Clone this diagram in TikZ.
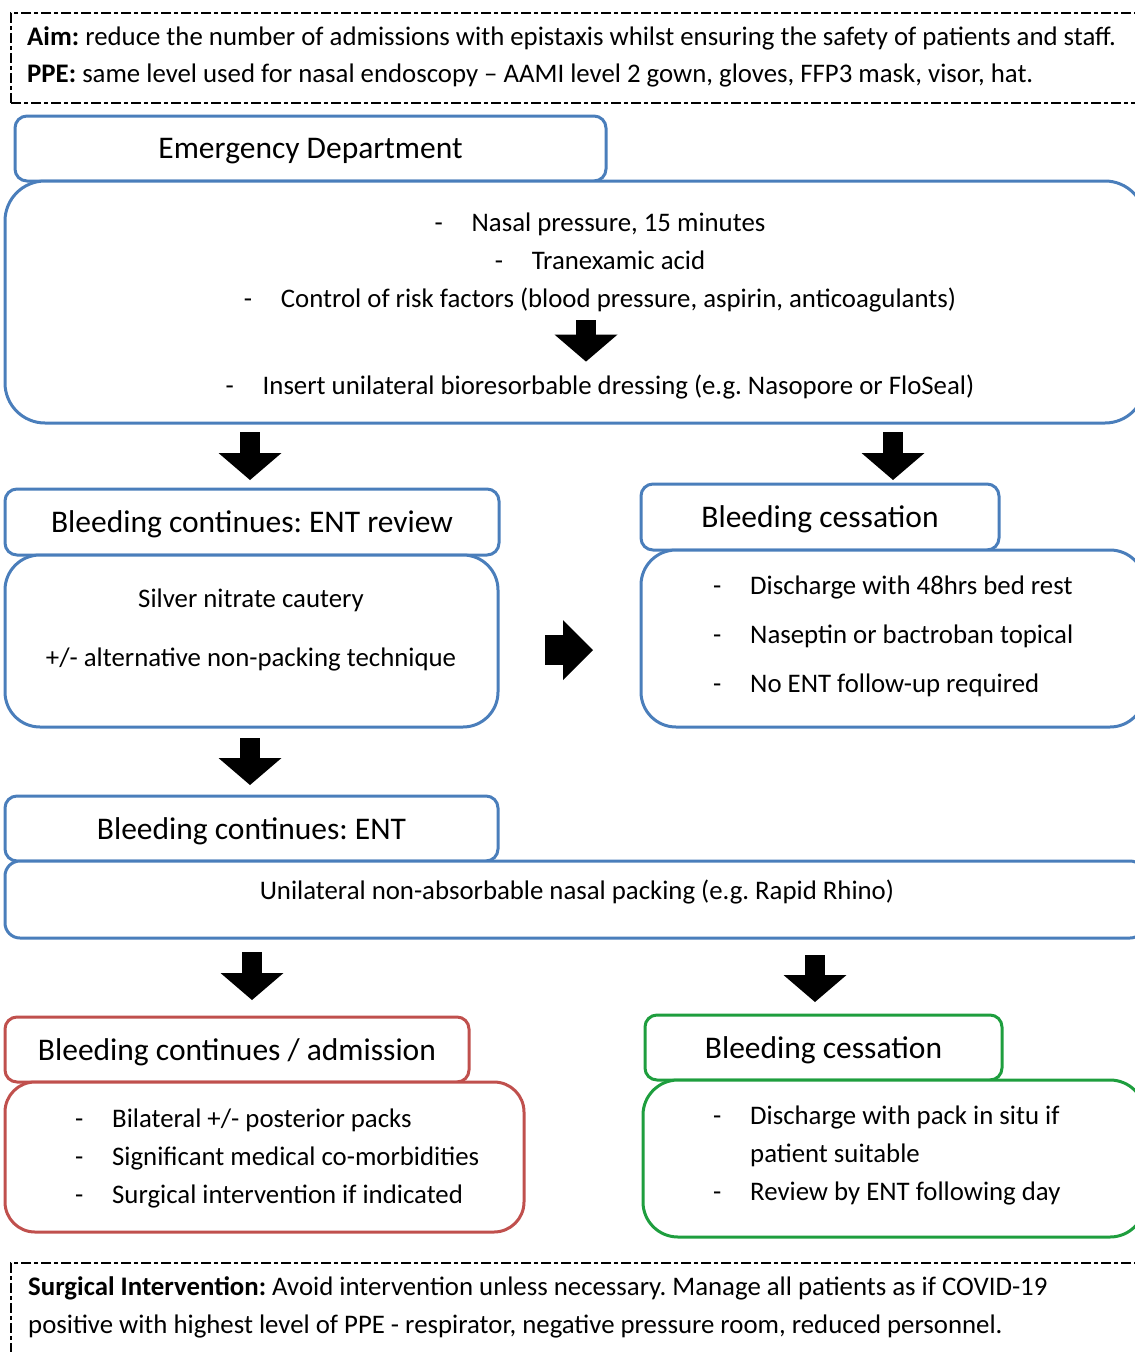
\documentclass[tikz,border=0pt]{standalone}
\usepackage{fontspec}
\setmainfont{Carlito}
\frenchspacing
\usetikzlibrary{arrows.meta, calc, positioning}
\definecolor{edblue}{HTML}{4A7EBB}
\definecolor{admred}{HTML}{C0504D}
\definecolor{disgreen}{HTML}{1E9E3E}
\tikzstyle{headbox} = [rectangle, line width=3pt, rounded corners=12pt, draw=edblue, fill=white, anchor=north west, inner sep=0pt, outer sep=0pt, text depth=0pt, font=\fontsize{31.5}{36}\selectfont]
\tikzstyle{bodybox} = [rectangle, line width=3pt, draw=edblue, fill=white, inner sep=0pt, outer sep=0pt]
\tikzstyle{notebox} = [rectangle, line width=2pt, dash pattern=on 10pt off 3pt on 4pt off 3pt, draw=black, anchor=north west, minimum width=1135pt]
\tikzstyle{txt} = [inner sep=0pt, anchor=mid, font=\fontsize{26.8}{30}\selectfont]
\tikzstyle{arrow} = [line width=20pt, -{Triangle[width=63pt,length=27pt,line width=0pt]}]
\tikzstyle{sidearrow} = [line width=30pt, -{Triangle[width=60pt,length=30pt,line width=0pt]}]
\newcommand{\dashitem}[1]{\makebox[37pt][l]{-}#1}

\begin{document}
\begin{tikzpicture}[x=1pt, y=-1pt]
	\useasboundingbox (0,0) rectangle (1135,1352);
	\clip (0,0) rectangle (1135,1352);

	% aim and PPE
	\node (Aim) [notebox, minimum height=90pt] at (10,12) {};
	\node (AimTxt) [txt, anchor=mid west] at (27,43) {\textbf{Aim:} reduce the number of admissions with epistaxis whilst ensuring the safety of patients and staff.};
	\node (PPETxt) [txt, anchor=mid west] at (27,80) {\textbf{PPE:} same level used for nasal endoscopy – AAMI level 2 gown, gloves, FFP3 mask, visor, hat.};

	% emergency department
	\node (EDhead) [headbox, minimum width=591pt, minimum height=65pt] at (15,116) {Emergency Department};
	\node (EDbody) [bodybox, rounded corners=40pt, minimum width=1140pt, minimum height=242pt, below right=0pt and -10pt of EDhead.south west] {};
	\node (EDpress) [txt] at (600,229) {\dashitem{Nasal pressure, 15 minutes}};
	\node (EDtxa) [txt] at (600,267) {\dashitem{Tranexamic acid}};
	\node (EDrisk) [txt] at (600,305) {\dashitem{Control of risk factors (blood pressure, aspirin, anticoagulants)}};
	\node (EDins) [txt] at (600,392) {\dashitem{Insert unilateral bioresorbable dressing (e.g. Nasopore or FloSeal)}};

	% ENT review
	\node (ContHead) [headbox, minimum width=494pt, minimum height=66pt] at (5,489) {Bleeding continues: ENT review};
	\node (ContBody) [bodybox, rounded corners=35pt, minimum width=493pt, minimum height=172pt, below right=0pt and 0pt of ContHead.south west] {};
	\node (ContSilver) [txt] at (251,605) {Silver nitrate cautery};
	\node (ContAlt) [txt] at (251,664) {+/- alternative non-packing technique};

	% first cessation
	\node (CessHead) [headbox, minimum width=358pt, minimum height=66pt] at (641,484) {Bleeding cessation};
	\node (CessBody) [bodybox, rounded corners=35pt, minimum width=504pt, minimum height=177pt, below right=0pt and 0pt of CessHead.south west] {};
	\node (CessRest) [txt, anchor=mid west] at (713,592) {\dashitem{Discharge with 48hrs bed rest}};
	\node (CessTopic) [txt, anchor=mid west] at (713,641) {\dashitem{Naseptin or bactroban topical}};
	\node (CessFollow) [txt, anchor=mid west] at (713,690) {\dashitem{No ENT follow-up required}};

	% packing
	\node (PackHead) [headbox, minimum width=493pt, minimum height=65pt] at (5,796) {Bleeding continues: ENT};
	\node (PackBody) [bodybox, rounded corners=15pt, minimum width=1140pt, minimum height=77pt, below right=0pt and 0pt of PackHead.south west] {};
	\node (PackTxt) [txt] at (577,897) {Unilateral non-absorbable nasal packing (e.g. Rapid Rhino)};

	% admission
	\node (AdmHead) [headbox, draw=admred, minimum width=464pt, minimum height=65pt] at (5,1017) {Bleeding continues / admission};
	\node (AdmBody) [bodybox, draw=admred, rounded corners=30pt, minimum width=519pt, minimum height=150pt, below right=0pt and 0pt of AdmHead.south west] {};
	\node (AdmPacks) [txt, anchor=mid west] at (75,1125) {\dashitem{Bilateral +/- posterior packs}};
	\node (AdmMed) [txt, anchor=mid west] at (75,1163) {\dashitem{Significant medical co-morbidities}};
	\node (AdmSurg) [txt, anchor=mid west] at (75,1201) {\dashitem{Surgical intervention if indicated}};

	% discharge
	\node (DisHead) [headbox, draw=disgreen, minimum width=357pt, minimum height=65pt] at (645,1015) {Bleeding cessation};
	\node (DisBody) [bodybox, draw=disgreen, rounded corners=35pt, minimum width=502pt, minimum height=157pt, below right=0pt and -2pt of DisHead.south west] {};
	\node (DisPack) [txt, anchor=mid west] at (713,1122) {\dashitem{Discharge with pack in situ if}};
	\node (DisSuit) [txt, anchor=mid west] at (750,1160) {patient suitable};
	\node (DisRev) [txt, anchor=mid west] at (713,1198) {\dashitem{Review by ENT following day}};

	% surgical intervention
	\node (Surg) [notebox, minimum height=110pt] at (10,1262) {};
	\node (SurgTxt) [txt, anchor=mid west] at (28,1293) {\textbf{Surgical Intervention:} Avoid intervention unless necessary. Manage all patients as if COVID-19};
	\node (SurgTxt2) [txt, anchor=mid west] at (28,1331) {positive with highest level of PPE - respirator, negative pressure room, reduced personnel.};

	\draw [arrow, shorten <=8pt, shorten >=13pt] (EDrisk.south -| 586,0) -- (EDins.north -| 586,0);
	\draw [arrow, shorten <=9pt, shorten >=9pt] (EDbody.south -| 250,0) -- (ContHead.north -| 250,0);
	\draw [arrow, shorten <=9pt, shorten >=4pt] (EDbody.south -| 893,0) -- (CessHead.north -| 893,0);
	\draw [sidearrow, shorten <=47pt, shorten >=48pt] (ContBody.east |- 0,650) -- (CessBody.west |- 0,650);
	\draw [arrow, shorten <=11pt, shorten >=11pt] (ContBody.south -| 250,0) -- (PackHead.north -| 250,0);
	\draw [arrow, shorten <=14pt, shorten >=17pt] (PackBody.south -| 252,0) -- (AdmHead.north -| 252,0);
	\draw [arrow, shorten <=17pt, shorten >=13pt] (PackBody.south -| 815,0) -- (DisHead.north -| 815,0);
\end{tikzpicture}
\end{document}
